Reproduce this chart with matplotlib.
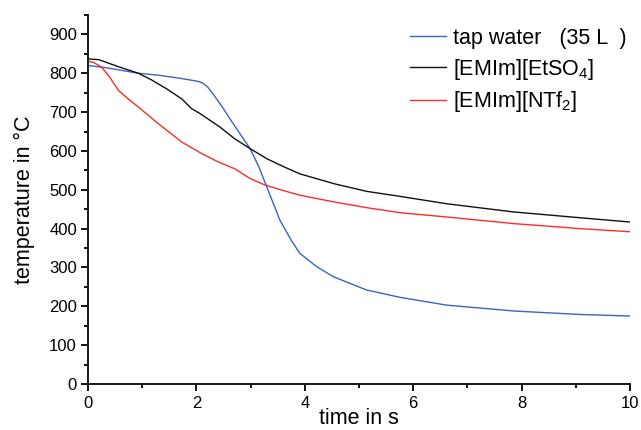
import matplotlib
matplotlib.use("Agg")
import matplotlib.pyplot as plt
from matplotlib.ticker import MultipleLocator

plt.rcParams['font.family'] = ['Liberation Sans', 'DejaVu Sans']
plt.rcParams['mathtext.fontset'] = 'custom'
plt.rcParams['mathtext.rm'] = 'Liberation Sans'
plt.rcParams['mathtext.it'] = 'Liberation Sans:italic'
plt.rcParams['mathtext.default'] = 'regular'

# tap water (35 L)
t_water = [0, 0.3, 0.6, 0.93, 1.3, 1.7, 2.0, 2.1, 2.2, 2.3, 2.44, 2.68, 2.99, 3.15, 3.30,
           3.54, 3.75, 3.91, 4.22, 4.53, 5.14, 5.76, 6.62, 7.85, 9.08, 10]
T_water = [820, 815, 808, 800, 795, 787, 780, 776, 766, 748, 721, 670, 606, 560, 507,
           422, 370, 336, 302, 276, 242, 223, 203, 188, 179, 175]

# [EMIm][EtSO4]
t_etso4 = [0, 0.2, 0.56, 0.93, 1.17, 1.45, 1.73, 1.91, 2.07, 2.44, 2.7, 2.99, 3.30, 3.6,
           3.91, 4.53, 5.14, 5.76, 6.62, 7.85, 9.08, 10]
T_etso4 = [837, 835, 817, 800, 783, 760, 734, 709, 696, 661, 632, 606, 580, 560,
           541, 516, 496, 483, 464, 443, 428, 417]

# [EMIm][NTf2]
t_ntf2 = [0, 0.1, 0.25, 0.4, 0.56, 0.75, 0.93, 1.30, 1.73, 2.10, 2.40, 2.71, 2.99, 3.27,
          3.63, 3.91, 4.53, 5.14, 5.76, 6.62, 7.85, 9.08, 10]
T_ntf2 = [831, 828, 816, 790, 756, 733, 713, 670, 623, 593, 572, 554, 529, 512,
          497, 486, 469, 454, 441, 430, 413, 400, 392]

labels = ['tap water   (35 L  )', '[EMIm][EtSO$_4$]', '[EMIm][NTf$_2$]']
colors = ['#4060c4', '#111111', '#ff2a2a']

fig = plt.figure(figsize=(6.41, 4.30), dpi=100)
ax = fig.add_axes([88/641, 1 - 384/430, (630-88)/641, (384-15)/430])

ax.plot(t_water, T_water, color=colors[0], lw=1.0, label=labels[0])
ax.plot(t_etso4, T_etso4, color=colors[1], lw=1.0, label=labels[1])
ax.plot(t_ntf2, T_ntf2, color=colors[2], lw=1.0, label=labels[2])

ax.set_xlim(0, 10)
ax.set_ylim(0, 950)
ax.xaxis.set_major_locator(MultipleLocator(2))
ax.xaxis.set_minor_locator(MultipleLocator(1))
ax.yaxis.set_major_locator(MultipleLocator(100))
ax.yaxis.set_minor_locator(MultipleLocator(50))

for s in ['top', 'right']:
    ax.spines[s].set_visible(False)
for s in ['left', 'bottom']:
    ax.spines[s].set_linewidth(1.4)
    ax.spines[s].set_color('#1a1a1a')

ax.tick_params(which='major', direction='out', length=5, width=1.3, labelsize=12, pad=3)
ax.tick_params(axis='x', which='major', pad=4)
ax.tick_params(which='minor', direction='out', length=3, width=1.3)

ax.set_xlabel('time in s', fontsize=15.5, labelpad=-2.5)
ax.set_ylabel('temperature in °C', fontsize=15.5, labelpad=10)

leg = ax.legend(loc='upper left', bbox_to_anchor=(410/641, 1 - 28/430),
                bbox_transform=fig.transFigure, frameon=False, borderpad=0,
                borderaxespad=0, fontsize=15.5, handlelength=1.65,
                handletextpad=0.35, labelspacing=0.35)

fig.savefig('out.png', dpi=100)
